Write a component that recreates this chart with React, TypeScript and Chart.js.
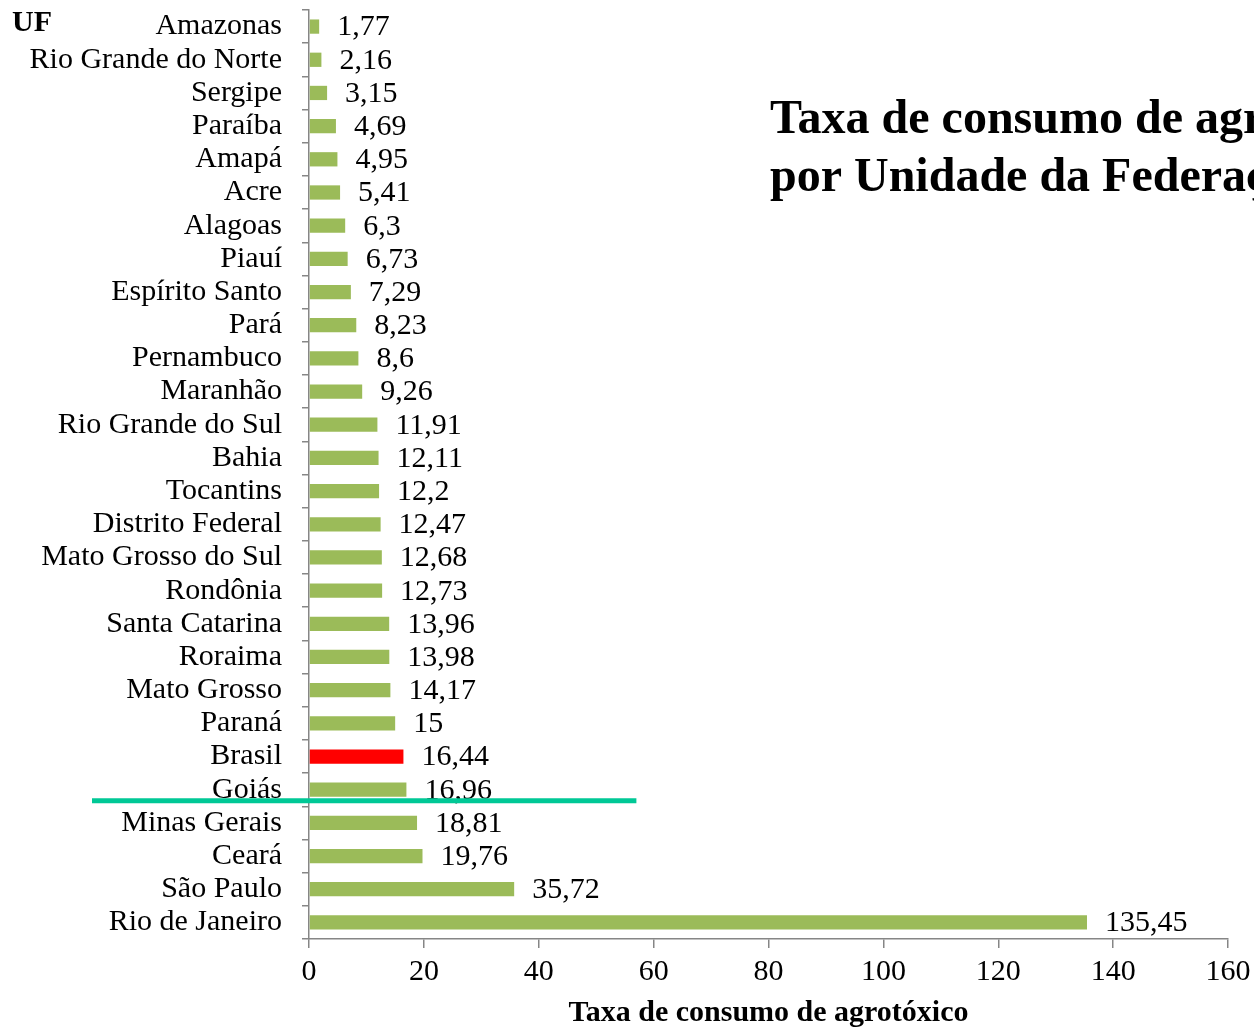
import React, { useEffect, useRef } from "react";
import { Chart, registerables } from "chart.js";

Chart.register(...registerables);

const categories = [
  "Amazonas", "Rio Grande do Norte", "Sergipe", "Paraíba", "Amapá", "Acre", "Alagoas",
  "Piauí", "Espírito Santo", "Pará", "Pernambuco", "Maranhão", "Rio Grande do Sul",
  "Bahia", "Tocantins", "Distrito Federal", "Mato Grosso do Sul", "Rondônia",
  "Santa Catarina", "Roraima", "Mato Grosso", "Paraná", "Brasil", "Goiás",
  "Minas Gerais", "Ceará", "São Paulo", "Rio de Janeiro",
];

const values = [
  1.77, 2.16, 3.15, 4.69, 4.95, 5.41, 6.3, 6.73, 7.29, 8.23, 8.6, 9.26, 11.91, 12.11,
  12.2, 12.47, 12.68, 12.73, 13.96, 13.98, 14.17, 15, 16.44, 16.96, 18.81, 19.76, 35.72,
  135.45,
];

const highlight = "Brasil";
const xTicks = [0, 20, 40, 60, 80, 100, 120, 140, 160];

const titleLines = ["Taxa de consumo de agrotóxicos", "por Unidade da Federação"];
const yAxisTitle = "UF";
const xAxisTitle = "Taxa de consumo de agrotóxico";

const GREEN = "#9BBB59";
const RED = "#FF0000";
const AXIS = "#868686";
const TEAL = "#00C896";
const SERIF = "'Liberation Serif', 'Times New Roman', serif";

const extrasPlugin = {
  id: "extras",
  afterDatasetsDraw(chart: any) {
    const ctx = chart.ctx;
    const meta = chart.getDatasetMeta(0);
    ctx.save();
    ctx.font = `30px ${SERIF}`;
    ctx.fillStyle = "#000";
    ctx.textAlign = "left";
    ctx.textBaseline = "middle";
    meta.data.forEach((bar: any, i: number) => {
      const label = String(values[i]).replace(".", ",");
      ctx.fillText(label, bar.x + 18, bar.y + 1);
    });
    ctx.restore();
  },
  afterDraw(chart: any) {
    const ctx = chart.ctx;
    const y = chart.scales.y;
    const x = chart.scales.x;
    ctx.save();
    ctx.fillStyle = "#000";
    ctx.textAlign = "left";
    ctx.textBaseline = "alphabetic";
    ctx.font = `bold 48px ${SERIF}`;
    ctx.fillText(titleLines[0], 770, 133);
    ctx.fillText(titleLines[1], 770, 191);
    ctx.font = `bold 30px ${SERIF}`;
    ctx.fillText(yAxisTitle, 12, 31);
    // teal separator line (between Goiás and Minas Gerais)
    const idx = categories.indexOf("Goiás");
    const ly = y.getPixelForValue(idx + 0.33);
    ctx.strokeStyle = TEAL;
    ctx.lineWidth = 5;
    ctx.beginPath();
    ctx.moveTo(92, ly);
    ctx.lineTo(x.getPixelForValue(57), ly);
    ctx.stroke();
    ctx.restore();
  },
};

export default function App() {
  const ref = useRef<HTMLCanvasElement>(null);
  useEffect(() => {
    if (!ref.current) return;
    const chart = new Chart(ref.current, {
      type: "bar",
      data: {
        labels: categories,
        datasets: [
          {
            data: values,
            backgroundColor: categories.map((c) => (c === highlight ? RED : GREEN)),
            categoryPercentage: 1,
            barPercentage: 0.43,
          },
        ],
      },
      options: {
        indexAxis: "y",
        animation: false,
        responsive: false,
        devicePixelRatio: 1,
        layout: { padding: { left: 0, right: 26, top: 10, bottom: 0 } },
        plugins: {
          legend: { display: false },
          tooltip: { enabled: false },
          title: { display: false },
        },
        scales: {
          x: {
            min: 0,
            max: 160,
            afterFit(scale: any) {
              scale.height = 89;
              scale.paddingLeft = 0;
              scale.paddingRight = 0;
              scale.paddingTop = 0;
              scale.paddingBottom = 0;
            },
            afterBuildTicks(scale: any) {
              scale.ticks = xTicks.map((v) => ({ value: v }));
            },
            border: { display: true, color: AXIS, width: 1.5 },
            grid: {
              drawOnChartArea: false,
              drawTicks: true,
              tickLength: 9,
              color: AXIS,
              lineWidth: 1.5,
            },
            ticks: {
              padding: 6,
              color: "#000",
              font: { family: SERIF, size: 30 },
            },
            title: {
              display: true,
              text: xAxisTitle,
              color: "#000",
              font: { family: SERIF, size: 30, weight: "bold", lineHeight: 1 },
              padding: { top: 0, bottom: 0 },
            },
          },
          y: {
            afterFit(scale: any) {
              scale.width = 309;
              scale.paddingLeft = 0;
              scale.paddingRight = 0;
              scale.paddingTop = 0;
              scale.paddingBottom = 0;
            },
            border: { display: true, color: AXIS, width: 1.5 },
            grid: {
              offset: true,
              drawOnChartArea: false,
              drawTicks: true,
              tickLength: 7,
              color: AXIS,
              lineWidth: 1.5,
            },
            ticks: {
              padding: 20,
              color: "#000",
              autoSkip: false,
              font: { family: SERIF, size: 30 },
            },
          },
        },
      },
      plugins: [extrasPlugin],
    } as any);
    return () => chart.destroy();
  }, []);
  return (
    <div style={{ position: "absolute", left: 0, top: 0, width: 1254, height: 1028, background: "#fff" }}>
      <canvas ref={ref} width={1254} height={1028} style={{ display: "block" }} />
    </div>
  );
}
